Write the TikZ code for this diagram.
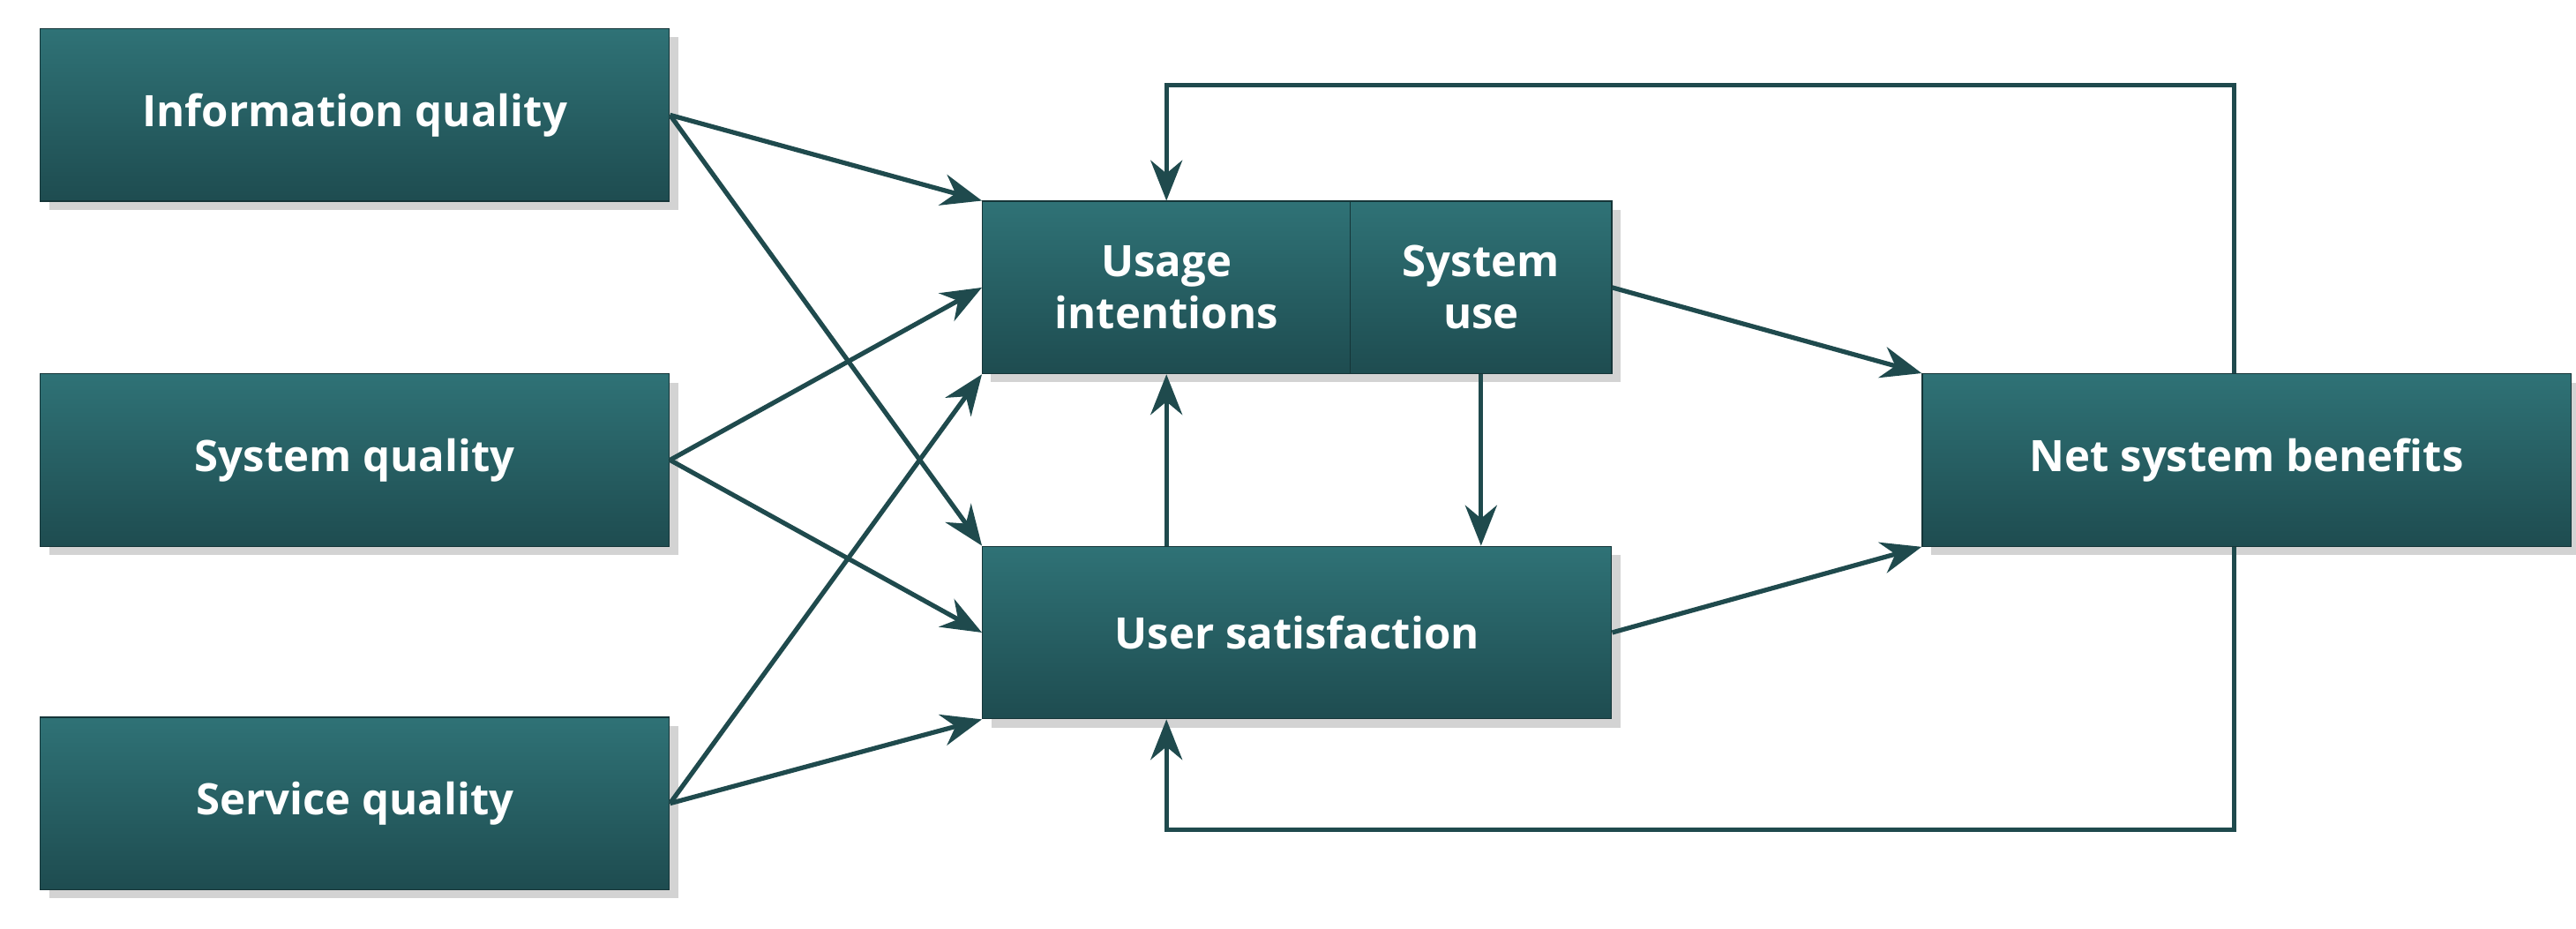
\documentclass[tikz,border=0pt]{standalone}
\usepackage{fontspec}
\setmainfont{Open Sans}
\usetikzlibrary{arrows.meta,shadows}
\definecolor{boxtop}{HTML}{2F7276}
\definecolor{boxbot}{HTML}{1E4C50}
\definecolor{linec}{HTML}{1F4A4D}
\begin{document}
\begin{tikzpicture}[x=0.02cm,y=-0.02cm,
    box/.style={draw=boxbot!70!black,top color=boxtop,bottom color=boxbot,
        text=white,font=\fontsize{15}{18}\selectfont\bfseries,align=center,
        inner sep=0pt,drop shadow={opacity=0.35,shadow xshift=3pt,shadow yshift=-3pt}},
    link/.style={draw=linec,line width=1.6pt,-{Stealth[length=14pt,width=11pt]}}]
    \useasboundingbox (0,0) rectangle (1568,565);

    \node[box,minimum width=7.66cm,minimum height=2.1cm] (info) at (216,70) {Information quality};
    \node[box,minimum width=7.66cm,minimum height=2.1cm] (sysq) at (216,280) {System quality};
    \node[box,minimum width=7.66cm,minimum height=2.1cm] (servq) at (216,489) {Service quality};

    \node[box,minimum width=4.48cm,minimum height=2.1cm] (usage) at (710,175) {Usage\\intentions};
    \node[box,minimum width=3.18cm,minimum height=2.1cm] (sysuse) at (901.5,175) {System\\use};
    \node[box,minimum width=7.66cm,minimum height=2.1cm] (usat) at (789.5,385) {User satisfaction};
    \node[box,minimum width=7.9cm,minimum height=2.1cm] (net) at (1367.5,280) {Net system benefits};

    % quality dimensions
    \draw[link] (info.east) -- (usage.north west);
    \draw[link] (info.east) -- (usat.north west);
    \draw[link] (sysq.east) -- (usage.west);
    \draw[link] (sysq.east) -- (usat.west);
    \draw[link] (servq.east) -- (usage.south west);
    \draw[link] (servq.east) -- (usat.south west);

    % use and satisfaction
    \draw[link] (usat.north -| usage.south) -- (usage.south);
    \draw[link] (sysuse.south) -- (sysuse.south |- usat.north);
    \draw[link] (sysuse.east) -- (net.north west);
    \draw[link] (usat.east) -- (net.south west);

    % feedback loops
    \coordinate (fbtop) at (1360,52);
    \coordinate (fbbot) at (1360,505);
    \draw[link] (net.north -| fbtop) -- (fbtop) -| (usage.north);
    \draw[link] (net.south -| fbbot) -- (fbbot) -| (usat.south -| usage.south);
\end{tikzpicture}
\end{document}
